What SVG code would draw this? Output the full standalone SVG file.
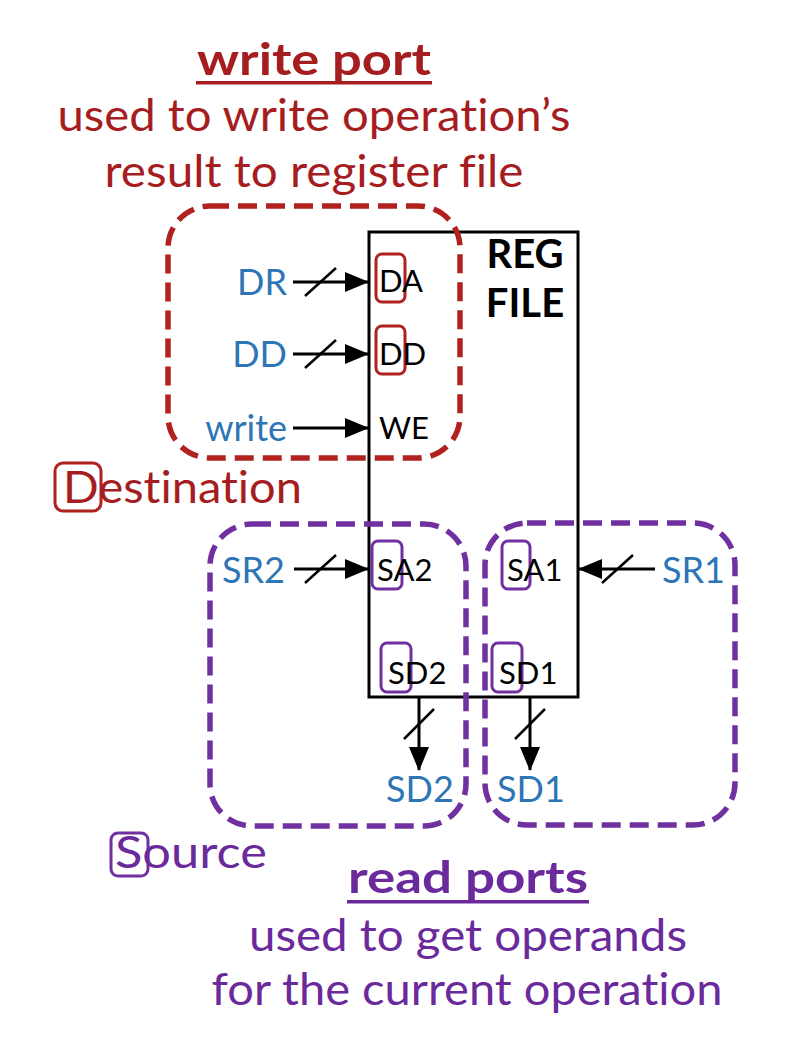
<svg xmlns="http://www.w3.org/2000/svg" width="804" height="1052" viewBox="0 0 804 1052">
<defs>
<marker id="ah" markerUnits="userSpaceOnUse" markerWidth="24" markerHeight="20" refX="23" refY="10" orient="auto">
<path d="M0,0 L24,10 L0,20 Z" fill="#000"/>
</marker>
<style>
text{font-family:Lato,"Open Sans","Liberation Sans",sans-serif;font-variant-ligatures:none;font-feature-settings:"liga" 0,"dlig" 0}
.red{fill:#a51d1f}
.pur{fill:#6a2a9c}
.blue{fill:#2e75b6;font-size:36px}
.port{fill:#000;font-size:31px}
.hd{font-size:44px}
.bold{font-weight:bold}
.wire{stroke:#000;stroke-width:3;fill:none}
.slash{stroke:#000;stroke-width:2.5}
.dred{fill:none;stroke:#b0211f;stroke-width:5.5;stroke-dasharray:19 9}
.dpur{fill:none;stroke:#7030a0;stroke-width:5.5;stroke-dasharray:19 9}
.mred{fill:none;stroke:#b0211f;stroke-width:3}
.mpur{fill:none;stroke:#7030a0;stroke-width:3}
</style>
</defs>
<rect width="804" height="1052" fill="#fff"/>

<g id="write-port-title">
<text class="red hd bold" x="314" y="75" text-anchor="middle" textLength="234" lengthAdjust="spacingAndGlyphs">write port</text>
<rect x="196" y="81" width="236" height="3.5" fill="#a51d1f"/>
<text class="red hd" x="314" y="131" text-anchor="middle" textLength="513" lengthAdjust="spacingAndGlyphs">used to write operation’s</text>
<text class="red hd" x="314" y="187" text-anchor="middle" textLength="419" lengthAdjust="spacingAndGlyphs">result to register file</text>
</g>

<g id="regfile">
<rect x="369" y="232" width="209" height="465" fill="none" stroke="#000" stroke-width="3"/>
<text class="bold" x="525" y="268" text-anchor="middle" font-size="40" fill="#000">REG</text>
<text class="bold" x="525" y="317" text-anchor="middle" font-size="40" fill="#000">FILE</text>
</g>

<g id="write-group">
<rect class="dred" x="168" y="206" width="292" height="252" rx="42"/>
</g>

<g id="port-DA">
<rect class="mred" x="376" y="254" width="29" height="48" rx="6"/>
<text class="port" x="379" y="292">DA</text>
</g>
<g id="port-DD">
<rect class="mred" x="376" y="326" width="29" height="48" rx="6"/>
<text class="port" x="379" y="365">DD</text>
</g>
<g id="port-WE">
<text class="port" x="379" y="439">WE</text>
</g>

<g id="label-DR"><text class="blue" x="287" y="295" text-anchor="end">DR</text></g>
<g id="label-DD"><text class="blue" x="287" y="367" text-anchor="end">DD</text></g>
<g id="label-write"><text class="blue" x="287" y="441" text-anchor="end">write</text></g>

<g id="destination">
<rect class="mred" x="55" y="463" width="46" height="48" rx="8"/>
<text class="red" x="63" y="503" font-size="44" textLength="239" lengthAdjust="spacingAndGlyphs">Destination</text>
</g>

<g id="read-group-2">
<rect class="dpur" x="210" y="524" width="256" height="302" rx="42"/>
</g>
<g id="read-group-1">
<rect class="dpur" x="485" y="523" width="250" height="302" rx="42"/>
</g>

<g id="port-SA2">
<rect class="mpur" x="372" y="541" width="30" height="48" rx="6"/>
<text class="port" x="377" y="581">SA2</text>
</g>
<g id="port-SA1">
<rect class="mpur" x="502" y="541" width="28" height="48" rx="6"/>
<text class="port" x="507" y="581">SA1</text>
</g>
<g id="port-SD2">
<rect class="mpur" x="381" y="643" width="30" height="49" rx="6"/>
<text class="port" x="388" y="684">SD2</text>
</g>
<g id="port-SD1">
<rect class="mpur" x="492" y="643" width="30" height="49" rx="6"/>
<text class="port" x="499" y="684">SD1</text>
</g>

<g id="label-SR2"><text class="blue" x="222" y="583">SR2</text></g>
<g id="label-SR1"><text class="blue" x="662" y="583">SR1</text></g>
<g id="label-SD2-out"><text class="blue" x="386" y="802">SD2</text></g>
<g id="label-SD1-out"><text class="blue" x="497" y="802">SD1</text></g>

<g id="source">
<rect class="mpur" x="111" y="833" width="37" height="43" rx="7"/>
<text class="pur" x="115" y="868" font-size="44" textLength="152" lengthAdjust="spacingAndGlyphs">Source</text>
</g>

<g id="read-ports-title">
<text class="pur hd bold" x="468" y="893" text-anchor="middle" textLength="240" lengthAdjust="spacingAndGlyphs">read ports</text>
<rect x="347" y="900" width="242" height="3.5" fill="#6a2a9c"/>
<text class="pur hd" x="468" y="951" text-anchor="middle" textLength="438" lengthAdjust="spacingAndGlyphs">used to get operands</text>
<text class="pur hd" x="467" y="1005" text-anchor="middle" textLength="511" lengthAdjust="spacingAndGlyphs">for the current operation</text>
</g>

<g id="connectors">
<line class="wire" x1="293" y1="282" x2="368" y2="282" marker-end="url(#ah)"/>
<line class="slash" x1="305" y1="296" x2="336" y2="268"/>
<line class="wire" x1="293" y1="354" x2="368" y2="354" marker-end="url(#ah)"/>
<line class="slash" x1="305" y1="368" x2="336" y2="340"/>
<line class="wire" x1="293" y1="428" x2="368" y2="428" marker-end="url(#ah)"/>
<line class="wire" x1="294" y1="569" x2="368" y2="569" marker-end="url(#ah)"/>
<line class="slash" x1="305" y1="583" x2="336" y2="555"/>
<line class="wire" x1="655" y1="569" x2="579" y2="569" marker-end="url(#ah)"/>
<line class="slash" x1="602" y1="583" x2="633" y2="555"/>
<line class="wire" x1="419" y1="698" x2="419" y2="770" marker-end="url(#ah)"/>
<line class="slash" x1="404" y1="739" x2="434" y2="709"/>
<line class="wire" x1="530" y1="698" x2="530" y2="770" marker-end="url(#ah)"/>
<line class="slash" x1="515" y1="739" x2="545" y2="709"/>
</g>
</svg>
